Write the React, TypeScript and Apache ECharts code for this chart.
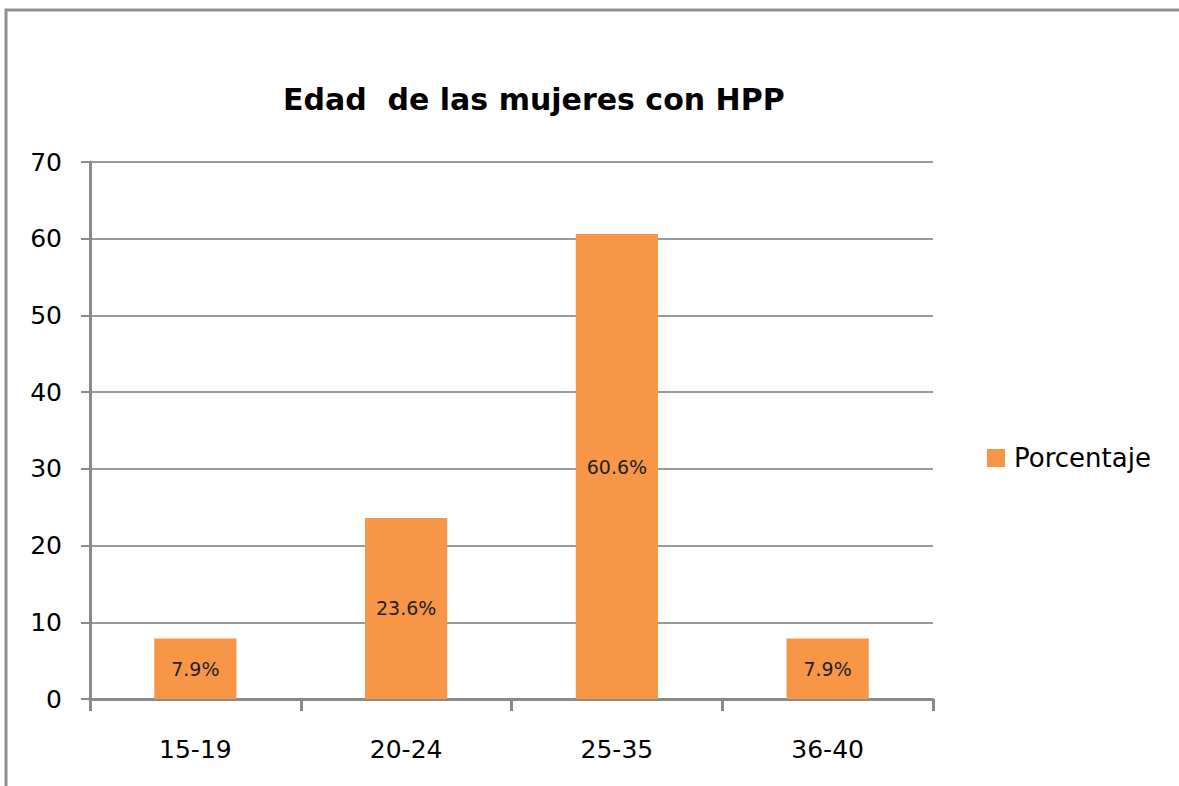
import React, { useEffect, useRef } from "react";
import * as echarts from "echarts";

const categories = ["15-19", "20-24", "25-35", "36-40"];
const values = [7.9, 23.6, 60.6, 7.9];
const seriesName = "Porcentaje";
const titleText = "Edad  de las mujeres con HPP";
const yMin = 0;
const yMax = 70;
const yInterval = 10;

const FONT = "'DejaVu Sans', Verdana, sans-serif";

export default function App() {
  const ref = useRef<HTMLDivElement>(null);
  useEffect(() => {
    if (!ref.current) return;
    const chart = echarts.init(ref.current, undefined, { renderer: "svg" });
    chart.setOption({
      animation: false,
      backgroundColor: "#ffffff",
      textStyle: { fontFamily: FONT },
      graphic: [
        {
          type: "rect",
          shape: { x: 6, y: 10, width: 1200, height: 800 },
          style: { fill: "none", stroke: "#8f8f8f", lineWidth: 3 },
          silent: true,
        },
      ],
      title: {
        text: titleText,
        left: 278,
        top: 79,
        textStyle: { fontFamily: FONT, fontSize: 30, fontWeight: "bold", color: "#000" },
      },
      legend: {
        data: [seriesName],
        left: 982,
        top: 440,
        orient: "vertical",
        itemWidth: 18,
        itemHeight: 18,
        icon: "rect",
        textStyle: { fontFamily: FONT, fontSize: 26, color: "#000", padding: [0, 0, 0, 4] },
      },
      grid: { left: 90, top: 162, right: 246, bottom: 87, containLabel: false },
      xAxis: {
        type: "category",
        data: categories,
        boundaryGap: true,
        axisLine: { show: true, lineStyle: { color: "#8a8a8a", width: 3 } },
        axisTick: { show: true, length: 12, inside: false, lineStyle: { color: "#8a8a8a", width: 3 } },
        axisLabel: { margin: 38, fontFamily: FONT, fontSize: 25, color: "#000" },
        splitLine: { show: false },
      },
      yAxis: {
        type: "value",
        min: yMin,
        max: yMax,
        interval: yInterval,
        axisLine: { show: true, lineStyle: { color: "#8a8a8a", width: 3 } },
        axisTick: { show: true, length: 9, lineStyle: { color: "#8a8a8a", width: 2 } },
        axisLabel: { margin: 28, fontFamily: FONT, fontSize: 25, color: "#000" },
        splitLine: { show: true, lineStyle: { color: "#9a9a9a", width: 2 } },
      },
      series: [
        {
          name: seriesName,
          type: "bar",
          data: values,
          barWidth: "39%",
          itemStyle: { color: "#F79646" },
          label: {
            show: true,
            position: "inside",
            formatter: (p: any) => `${p.value}%`,
            fontFamily: FONT,
            fontSize: 19,
            color: "#222",
          },
        },
      ],
    });
    return () => chart.dispose();
  }, []);
  return (
    <div
      ref={ref}
      style={{ position: "absolute", left: 0, top: 0, width: 1179, height: 786 }}
    />
  );
}
